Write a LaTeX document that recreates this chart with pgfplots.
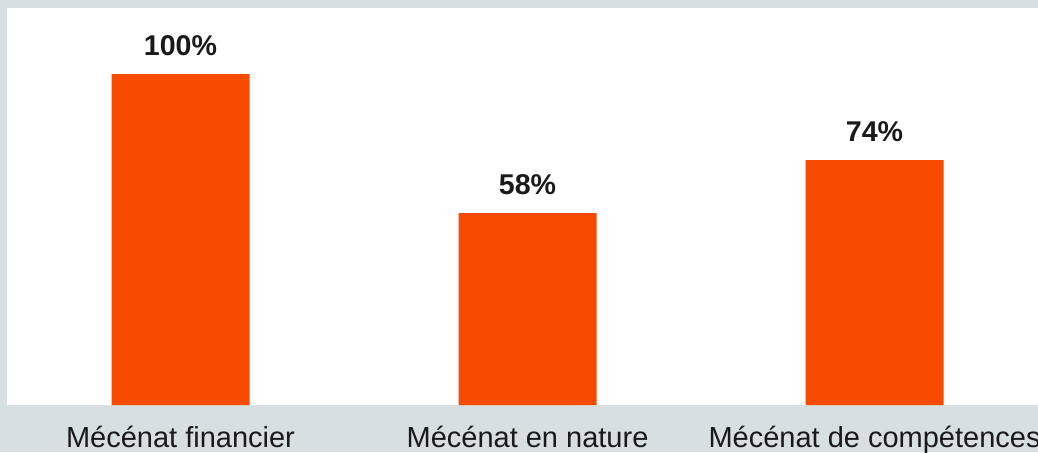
\documentclass[border=0pt]{standalone}
\usepackage{pgfplots}
\pgfplotsset{compat=1.18}
\usepackage{fontspec}
\setmainfont{Liberation Sans}
\definecolor{barc}{HTML}{F74B01}
\definecolor{bgc}{HTML}{D8DFE1}
\definecolor{txt}{HTML}{1A1A1A}
\begin{document}
\begin{tikzpicture}
\fill[bgc] (-3.5pt,-23.5pt) rectangle (515.5pt,202.5pt);
\useasboundingbox (-3.5pt,-23.5pt) rectangle (515.5pt,202.5pt);
\begin{axis}[
  at={(0pt,0pt)}, anchor=south west,
  scale only axis, width=515.5pt, height=198.5pt,
  axis background/.style={fill=white},
  axis line style={draw=none},
  ymin=0, ymax=120, xmin=-0.5, xmax=2.471,
  ybar, bar width=69pt,
  ytick=\empty,
  xtick=data,
  xticklabels={Mécénat financier, Mécénat en nature, Mécénat de compétences},
  major tick length=0pt,
  xticklabel style={font=\fontsize{14.5pt}{16pt}\selectfont, text=txt, anchor=base, yshift=-21pt, inner sep=0pt},
  /pgf/number format/assume math mode=true,
  nodes near coords={\pgfmathprintnumber[assume math mode=true]{\pgfplotspointmeta}\%},
  every node near coord/.append style={font=\bfseries\fontsize{14.3pt}{16pt}\selectfont, text=txt, anchor=south, inner sep=0pt, yshift=8.8pt},
  clip=false,
]
\addplot[fill=barc, draw=none] coordinates {(0,100) (1,58) (2,74)};
\end{axis}
\end{tikzpicture}
\end{document}
